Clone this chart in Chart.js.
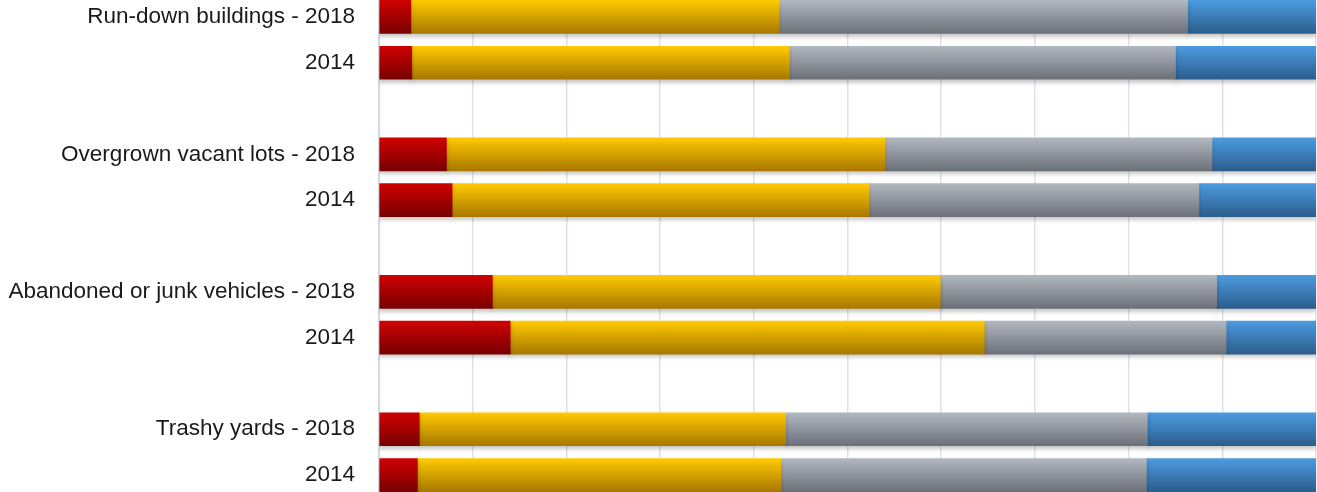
<!DOCTYPE html>
<html>
<head>
<meta charset="utf-8">
<script src="https://cdn.jsdelivr.net/npm/chart.js@4/dist/chart.umd.min.js"></script>
<style>
  html, body { margin: 0; padding: 0; background: #fff; overflow: hidden; }
  #wrap { position: absolute; left: 0; top: -6px; width: 1317px; height: 504px; }
</style>
</head>
<body>
<div id="wrap"><canvas id="c" width="1317" height="504"></canvas></div>
<script>
const categories = ['Run-down buildings - 2018', '2014', '', 'Overgrown vacant lots - 2018', '2014', '', 'Abandoned or junk vehicles - 2018', '2014', '', 'Trashy yards - 2018', '2014'];
const seriesNames = ['Red', 'Yellow', 'Gray', 'Blue'];
const redValues    = [3.4, 3.5, null, 7.2, 7.8, null, 12.1, 14.0, null, 4.3, 4.1];
const yellowValues = [39.3, 40.3, null, 46.8, 44.5, null, 47.8, 50.6, null, 39.1, 38.8];
const grayValues   = [43.6, 41.2, null, 34.9, 35.2, null, 29.5, 25.8, null, 38.6, 39.0];
const blueValues   = [13.7, 15.0, null, 11.1, 12.5, null, 10.6, 9.6, null, 18.0, 18.1];

const BAR = 33;
function grad(top, bottom) {
  return function (ctx) {
    const chart = ctx.chart;
    const ys = chart.scales && chart.scales.y;
    if (!ys || ctx.dataIndex === undefined || !chart.chartArea) return top;
    const c = ys.getPixelForTick(ctx.dataIndex);
    if (!isFinite(c)) return top;
    const g = chart.ctx.createLinearGradient(0, c - BAR / 2, 0, c + BAR / 2);
    g.addColorStop(0, top);
    g.addColorStop(1, bottom);
    return g;
  };
}

const shadowPlugin = {
  id: 'shadow',
  beforeDatasetsDraw(chart) {
    const ctx = chart.ctx;
    ctx.save();
    ctx.shadowColor = 'rgba(0,0,0,0.22)';
    ctx.shadowBlur = 4;
    ctx.shadowOffsetY = 3;
  },
  afterDatasetsDraw(chart) { chart.ctx.restore(); }
};

new Chart(document.getElementById('c'), {
  type: 'bar',
  plugins: [shadowPlugin],
  data: {
    labels: categories,
    datasets: [
      { label: seriesNames[0], data: redValues,    backgroundColor: grad('#d00000', '#780000') },
      { label: seriesNames[1], data: yellowValues, backgroundColor: grad('#ffca00', '#a87800') },
      { label: seriesNames[2], data: grayValues,   backgroundColor: grad('#b2b8c0', '#6c7078') },
      { label: seriesNames[3], data: blueValues,   backgroundColor: grad('#4c9be0', '#2c5d8c') }
    ]
  },
  options: {
    indexAxis: 'y',
    responsive: false,
    animation: false,
    layout: { autoPadding: false, padding: { left: 0, right: 1, top: 0, bottom: 0 } },
    datasets: { bar: { barThickness: BAR, borderWidth: 0 } },
    plugins: { legend: { display: false }, tooltip: { enabled: false } },
    scales: {
      x: {
        stacked: true, min: 0, max: 100,
        ticks: { display: false, stepSize: 10 },
        grid: { color: '#dde2ea', lineWidth: 1.5, drawTicks: false },
        border: { display: false },
        afterFit(s) { s.height = 0; s.paddingLeft = 0; s.paddingRight = 0; }
      },
      y: {
        stacked: true,
        grid: { display: false, drawTicks: false },
        border: { display: true, color: '#d3d8e0', width: 2 },
        ticks: {
          color: '#1a1a1a', padding: 24,
          font: { family: 'Liberation Sans', size: 22.5 }
        },
        afterFit(s) { s.width = 379; s.paddingTop = 0; s.paddingBottom = 0; }
      }
    }
  }
});
</script>
</body>
</html>
